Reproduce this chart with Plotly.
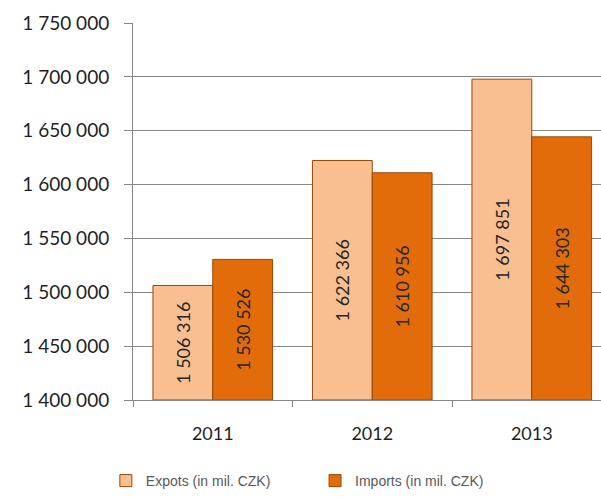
import plotly.graph_objects as go

years = ["2011", "2012", "2013"]
exports = [1506316, 1622366, 1697851]
imports = [1530526, 1610956, 1644303]
export_name = "Expots (in mil. CZK)"
import_name = "Imports (in mil. CZK)"
y_ticks = [1400000, 1450000, 1500000, 1550000, 1600000, 1650000, 1700000, 1750000]
y_min, y_max = 1400000, 1750000

y_tick_font = dict(family="Lato, Carlito, sans-serif", size=19, color="#1f1f1f")
x_tick_font = dict(family="Lato, Carlito, sans-serif", size=18, color="#1f1f1f")
bar_label_font = dict(family="Lato, Carlito, sans-serif", size=18, color="#262626")
legend_font = dict(family="Arial, Liberation Sans, sans-serif", size=14, color="#595959")


def spaced(v):
    # thousands grouped with a plain space
    return f"{v:,d}".replace(",", " ")


def bar_trace(values, name, color, legend):
    # bars start at the bottom of the value axis so the labels sit in the visible part
    return go.Bar(
        x=years, y=[v - y_min for v in values], base=y_min, name=name,
        marker=dict(color=color, line=dict(color="#984807", width=1)),
        text=[spaced(v) for v in values],
        textposition="inside", insidetextanchor="middle", constraintext="none",
        textangle=-90, textfont=bar_label_font, legend=legend,
    )


fig = go.Figure()
fig.add_trace(bar_trace(exports, export_name, "#F9BF90", "legend"))
fig.add_trace(bar_trace(imports, import_name, "#E36C0A", "legend2"))

legend_common = dict(orientation="h", y=-0.215, yanchor="middle", xanchor="left",
                     font=legend_font, itemwidth=30, bgcolor="rgba(0,0,0,0)")
fig.update_layout(
    width=601, height=497,
    margin=dict(l=133, r=0, t=23, b=96),
    paper_bgcolor="white", plot_bgcolor="white",
    barmode="group", bargap=0.25, bargroupgap=0,
    showlegend=True,
    legend=dict(x=-0.058, **legend_common),
    legend2=dict(x=0.389, **legend_common),
    uniformtext=dict(mode=False),
)
fig.update_xaxes(
    type="category", range=[-0.5, 2.434],
    showline=True, linecolor="#868686", linewidth=1,
    ticks="outside", tickson="boundaries", ticklen=6, tickcolor="#868686",
    tickfont=x_tick_font, ticklabelstandoff=17, showgrid=False,
)
fig.update_yaxes(
    range=[y_min, y_max], tickvals=y_ticks, ticktext=[spaced(v) for v in y_ticks],
    showline=True, linecolor="#868686", linewidth=1,
    ticks="outside", ticklen=8, tickcolor="#868686",
    showgrid=True, gridcolor="#868686", gridwidth=1,
    tickfont=y_tick_font, ticklabelstandoff=11, zeroline=False,
)

fig.write_html("out.html")
